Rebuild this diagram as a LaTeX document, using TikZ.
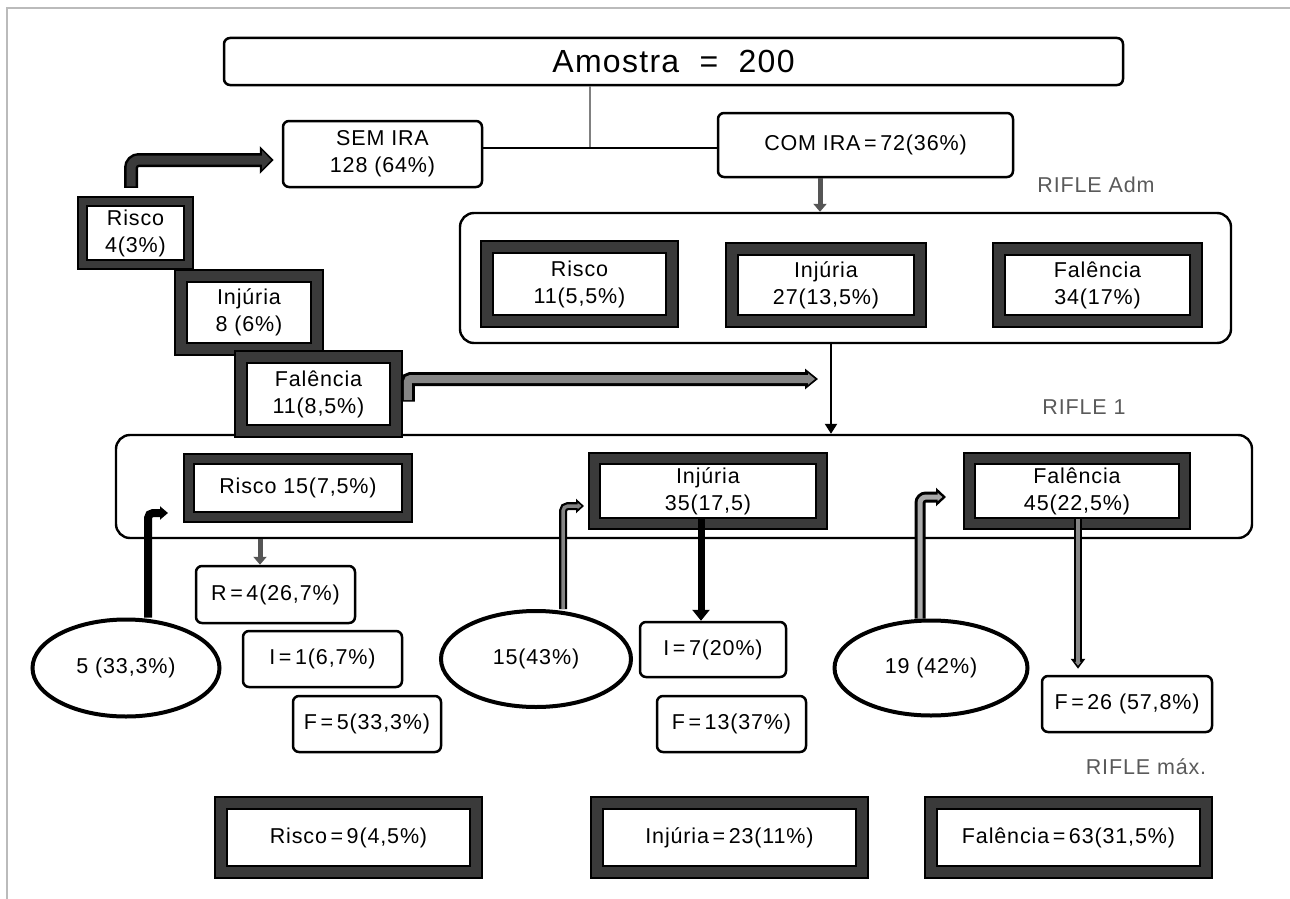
\documentclass[tikz,border=0pt]{standalone}
\usepackage{fontspec}
\setmainfont{Liberation Sans}[LetterSpace=4]
\usetikzlibrary{arrows.meta,shapes.geometric,calc}
\definecolor{bandg}{HTML}{3A3A3A}
\definecolor{arrg}{HTML}{555555}
\definecolor{lblg}{HTML}{5A5A5A}
\definecolor{frameg}{HTML}{BBBBBB}
\definecolor{dblg}{HTML}{858585}
\definecolor{lightg}{HTML}{AAAAAA}
\begin{document}
\begin{tikzpicture}[x=1pt,y=-1pt,
  every node/.style={font=\fontsize{21.5}{27}\selectfont},
  rbox/.style={rectangle, rounded corners=6pt,
    draw=black, line width=2.5pt, fill=white, inner sep=0pt, align=center},
  cont/.style={rectangle, rounded corners=14pt,
    draw=black, line width=2.4pt, fill=white, inner sep=0pt},
  fbox/.style={rectangle, draw=black, line width=1.5pt, fill=white, inner sep=0pt, align=center,
    preaction={draw=black, line width=2*#1},
    preaction={draw=bandg, line width=2*#1-4}},
  fbox/.default=13,
  ell/.style={ellipse, draw=black, line width=4pt, fill=white, inner sep=0pt},
  lbl/.style={text=lblg, inner sep=0pt},
  thinarr/.style={draw=arrg, line width=5pt, -{Triangle[length=8pt,width=13pt]}},
]
\useasboundingbox (0,0) rectangle (1290,899);
% frame lines of the figure
\draw[frameg, line width=1.5pt] (7,899) -- (7,8) -- (1290,8);

% containers
\node[cont, minimum width=771pt, minimum height=130pt] (adm) at (845.5,278) {};
\node[cont, minimum width=1136pt, minimum height=103pt] (rone) at (684,486.5) {};

% top boxes
\node[rbox, minimum width=899pt, minimum height=47pt, font=\fontsize{32}{36}\selectfont] (am) at (673.5,61.5) {Amostra \ = \ 200};
\node[rbox, minimum width=199pt, minimum height=66pt] (sem) at (382.5,154) {SEM IRA\\128 (64\%)};
\node[rbox, minimum width=295pt, minimum height=64pt] (com) at (865.5,145) {COM IRA\,=\,72(36\%)};

% labels
\node[lbl] (ladm) at (1096,185) {RIFLE Adm};
\node[lbl] (lone) at (1084,407) {RIFLE 1};
\node[lbl] (lmax) at (1146,767) {RIFLE máx.};

% staircase
\node[fbox=10, minimum width=97pt, minimum height=54pt] (r4) at (135.5,233) {Risco\\4(3\%)};
\node[fbox, minimum width=124pt, minimum height=61pt] (i8) at (249,312.5) {Injúria\\8 (6\%)};
\node[fbox, minimum width=143pt, minimum height=62pt] (f11) at (318.5,394) {Falência\\11(8,5\%)};

% RIFLE Adm
\node[fbox, minimum width=173pt, minimum height=62pt] (ra) at (579.5,284) {Risco\\11(5,5\%)};
\node[fbox, minimum width=176pt, minimum height=60pt] (ia) at (826,285) {Injúria\\27(13,5\%)};
\node[fbox, minimum width=185pt, minimum height=60pt] (fa) at (1097.5,285) {Falência\\34(17\%)};

% RIFLE 1
\node[fbox=11, minimum width=208pt, minimum height=48pt] (r15) at (298,488) {Risco 15(7,5\%)};
\node[fbox=12, minimum width=216pt, minimum height=54pt] (i35) at (708,491) {Injúria\\35(17,5)};
\node[fbox=12, minimum width=204pt, minimum height=54pt] (f45) at (1077,491) {Falência\\45(22,5\%)};

% small result boxes
\node[rbox, minimum width=159pt, minimum height=57pt] (rr) at (275.5,594.5) {R\,=\,4(26,7\%)};
\node[rbox, minimum width=159pt, minimum height=56pt] (ri) at (322.5,659) {I\,=\,1(6,7\%)};
\node[rbox, minimum width=148pt, minimum height=56pt] (rf) at (367,724) {F\,=\,5(33,3\%)};
\node[rbox, minimum width=146pt, minimum height=55pt] (ii) at (713,649.5) {I\,=\,7(20\%)};
\node[rbox, minimum width=149pt, minimum height=56pt] (fi13) at (731.5,724) {F\,=\,13(37\%)};
\node[rbox, minimum width=170pt, minimum height=56pt] (ff) at (1127,704) {F\,=\,26 (57,8\%)};

% ellipses
\node[ell, minimum width=187pt, minimum height=97pt] (e5) at (126,668) {5 (33,3\%)};
\node[ell, minimum width=190pt, minimum height=96pt] (e15) at (536,659) {15(43\%)};
\node[ell, minimum width=193pt, minimum height=95pt] (e19) at (931,668) {19 (42\%)};

% RIFLE max
\node[fbox, minimum width=243pt, minimum height=57pt] (rmax) at (348.5,837.5) {Risco\,=\,9(4,5\%)};
\node[fbox, minimum width=253pt, minimum height=57pt] (imax) at (729.5,837.5) {Injúria\,=\,23(11\%)};
\node[fbox, minimum width=263pt, minimum height=57pt] (fmax) at (1068.5,837.5) {Falência\,=\,63(31,5\%)};

% ---------- connectors ----------
\coordinate (j) at (590,148);
\draw[gray, line width=1.5pt] (am.south -| j) -- (j);
\draw[black, line width=2pt] (sem.east |- j) -- (com.west |- j);

\coordinate (x1) at (820,0);
\draw[thinarr] (com.south -| x1) -- (adm.north -| x1);

\coordinate (x2) at (831,0);
\draw[black, line width=2.2pt, -{Triangle[length=10pt,width=12pt]}] (adm.south -| x2) -- (rone.north -| x2);

% Risco 4 -> SEM IRA (block arrow)
\coordinate (pA) at ([xshift=-4.5pt,yshift=19pt]r4.north);
\coordinate (pB) at ([xshift=-8pt,yshift=-6pt]sem.west);
\draw[black, line width=14pt, rounded corners=8pt, shorten <=-1.5pt,
  -{Triangle[length=14pt,width=27pt]}] (pA) |- (pB);
\draw[bandg, line width=9pt, rounded corners=8pt, shorten >=2.6pt,
  -{Triangle[length=9pt,width=18pt]}] (pA) |- (pB);

% Falencia 11 -> RIFLE 1 arrow (double)
\coordinate (pC) at ([xshift=17pt,yshift=-6pt]f11.east);
\coordinate (e1) at (818,379);
\draw[black, line width=14pt, rounded corners=3pt, shorten <=-1.5pt,
  -{Triangle[length=13pt,width=20pt]}] (pC) |- (e1);
\draw[dblg, line width=8pt, rounded corners=3pt, shorten >=3pt,
  -{Triangle[length=7pt,width=11pt]}] (pC) |- (e1);

% Risco 15 -> R
\coordinate (x3) at (260,0);
\draw[thinarr] (rone.south -| x3) -- (rr.north -| x3);

% ellipse 5 -> RIFLE 1
\coordinate (x4) at (148,0);
\coordinate (h1) at (168,513);
\draw[black, line width=8pt, rounded corners=5pt, -{Triangle[length=8pt,width=13pt]}]
  (e5.north -| x4) |- (h1);

% ellipse 15 -> RIFLE 1
\coordinate (x5) at (563,0);
\coordinate (h2) at (584,506);
\draw[black, line width=8pt, rounded corners=5pt, -{Triangle[length=8pt,width=14pt]}]
  (e15.north -| x5) |- (h2);
\draw[dblg, line width=3.5pt, rounded corners=5pt, shorten >=2.5pt, -{Triangle[length=4pt,width=6pt]}]
  (e15.north -| x5) |- (h2);

% Injuria 35 -> I
\coordinate (x6) at (701,0);
\draw[black, line width=7pt, -{Triangle[length=11pt,width=17pt]}] (i35.south -| x6) -- (ii.north -| x6);

% ellipse 19 -> RIFLE 1
\coordinate (x7) at (920,0);
\coordinate (h3) at (946,497);
\draw[black, line width=11pt, rounded corners=6pt, -{Triangle[length=10pt,width=18pt]}]
  (e19.north -| x7) |- (h3);
\draw[lightg, line width=5pt, rounded corners=6pt, shorten >=3.5pt, -{Triangle[length=5pt,width=8pt]}]
  (e19.north -| x7) |- (h3);

% Falencia 45 -> F
\coordinate (x8) at (1078,0);
\draw[black, line width=8pt, shorten >=6pt, -{Triangle[length=10pt,width=14pt]}] (f45.south -| x8) -- (ff.north -| x8);
\draw[dblg, line width=3.5pt, shorten >=9pt, -{Triangle[length=4pt,width=6pt]}] (f45.south -| x8) -- (ff.north -| x8);
\end{tikzpicture}
\end{document}
